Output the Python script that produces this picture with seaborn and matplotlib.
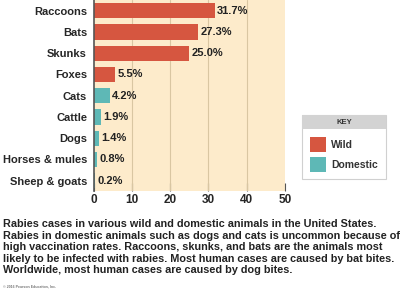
import matplotlib
matplotlib.use("Agg")
import matplotlib.pyplot as plt
import matplotlib.patches as mpatches
import seaborn as sns
import pandas as pd

animals = ["Raccoons", "Bats", "Skunks", "Foxes", "Cats", "Cattle", "Dogs",
           "Horses & mules", "Sheep & goats"]
percent = [31.7, 27.3, 25.0, 5.5, 4.2, 1.9, 1.4, 0.8, 0.2]
group = ["Wild", "Wild", "Wild", "Wild", "Domestic", "Domestic", "Domestic",
         "Domestic", "Domestic"]
x_ticks = [0, 10, 20, 30, 40, 50]

caption = ("Rabies cases in various wild and domestic animals in the United States.\n"
           "Rabies in domestic animals such as dogs and cats is uncommon because of\n"
           "high vaccination rates. Raccoons, skunks, and bats are the animals most\n"
           "likely to be infected with rabies. Most human cases are caused by bat bites.\n"
           "Worldwide, most human cases are caused by dog bites.")

colors = {"Wild": "#D65640", "Domestic": "#5EB8B6"}
bg = "#FDEBCB"
grid_c = "#D9C6A2"

df = pd.DataFrame({"animal": animals, "percent": percent, "group": group})

sns.set_style("white")
plt.rcParams["font.family"] = ["Liberation Sans", "DejaVu Sans"]
plt.rcParams["font.weight"] = "bold"

fig = plt.figure(figsize=(4, 2.9), dpi=100)
ax = fig.add_axes([0.235, 0.340, 0.477, 0.660])
ax.set_facecolor(bg)

sns.barplot(data=df, y="animal", x="percent", hue="group", dodge=False,
            palette=colors, saturation=1, width=0.72, legend=False, ax=ax,
            linewidth=0, zorder=3)

for i, v in enumerate(percent):
    ax.text(v + 0.6, i, f"{v:.1f}%", va="center", ha="left", fontsize=8,
            fontweight="bold", color="#222222", zorder=4)

ax.set_xlim(0, 50)
ax.set_ylim(8.5, -0.5)
ax.set_xticks(x_ticks)
ax.set_xticklabels([str(t) for t in x_ticks], fontsize=8.5, fontweight="bold")
ax.tick_params(axis="x", direction="in", length=6, width=0.8, color="#555555",
               pad=2, bottom=True)
ax.tick_params(axis="y", length=0, pad=5, labelsize=8)
for lab in ax.get_yticklabels():
    lab.set_fontweight("bold")
ax.set_xlabel("")
ax.set_ylabel("")
for x in x_ticks[1:-1]:
    ax.axvline(x, color=grid_c, lw=0.8, zorder=1)
for s in ["top", "right", "bottom"]:
    ax.spines[s].set_visible(False)
ax.spines["left"].set_color("#555555")
ax.spines["left"].set_linewidth(1.2)
ax.spines["left"].set_zorder(5)

# key box
kax = fig.add_axes([302 / 400, 1 - 179 / 290, 84 / 400, 64 / 290])
kax.set_xlim(0, 84)
kax.set_ylim(64, 0)
kax.axis("off")
kax.add_patch(mpatches.Rectangle((0, 0), 84, 64, facecolor="white",
                                 edgecolor="#D0D0D0", lw=0.8, clip_on=False))
kax.add_patch(mpatches.Rectangle((0, 0), 84, 14, facecolor="#D3D3D3",
                                 edgecolor="none", clip_on=False))
kax.text(42, 7.5, "KEY", ha="center", va="center", fontsize=5.5,
         fontweight="bold", color="#333333")
for j, g in enumerate(["Wild", "Domestic"]):
    y0 = 22 + j * 20
    kax.add_patch(mpatches.Rectangle((8, y0), 16, 15, facecolor=colors[g],
                                     edgecolor="none"))
    kax.text(29, y0 + 7.5, g, ha="left", va="center", fontsize=7.5,
             fontweight="bold", color="#333333")

fig.text(0.008, 1 - 219 / 290, caption, ha="left", va="top", fontsize=7.8,
         fontweight="bold", color="#222222", linespacing=1.2)
fig.text(0.008, 1 - 288 / 290, "\u00a9 2016 Pearson Education, Inc.",
         ha="left", va="bottom", fontsize=2.5, color="#777777")

fig.savefig("out.png", dpi=100)
